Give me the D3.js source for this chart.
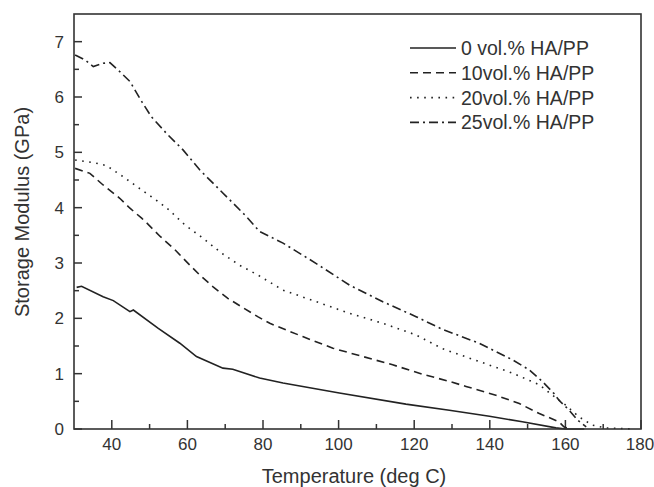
<!DOCTYPE html>
<html><head><meta charset="utf-8">
<script src="https://cdn.jsdelivr.net/npm/d3@7"></script>
<style>body{margin:0;background:#fff}svg{display:block}text{font-family:"Liberation Sans",Arial,sans-serif;fill:#333}</style>
</head><body><svg id="c" width="654" height="487"></svg>
<script>
const seriesNames = ["0 vol.% HA/PP","10vol.% HA/PP","20vol.% HA/PP","25vol.% HA/PP"];
const temp0 = [30.7,32,37.7,40.4,44.8,45.7,52.3,58,62.4,69.4,72,79.1,85.3,100.2,117.8,129.3,139.9,148.6,157.5,160,165];
const mod0  = [2.56,2.58,2.39,2.32,2.12,2.15,1.82,1.55,1.31,1.10,1.08,0.92,0.83,0.65,0.45,0.34,0.23,0.13,0.02,0.0,0.0];
const temp10 = [30.3,34.2,37.7,42.1,44.8,47.9,49.3,52.8,56.7,59.8,63.3,66.8,70.7,74.3,78.6,81.8,90.5,98.5,106.4,114.3,122.2,129.3,133.7,141.6,147.8,153.1,158.3,159.6,161];
const mod10  = [4.71,4.62,4.41,4.17,3.99,3.81,3.72,3.48,3.24,3.02,2.78,2.57,2.36,2.21,2.03,1.91,1.67,1.46,1.31,1.16,0.99,0.86,0.77,0.61,0.46,0.28,0.13,0.04,0.0];
const temp20 = [30.3,35.5,38.6,43,47.9,52.7,55.1,59.3,64.1,69,73.8,78.7,85.3,94.1,102.9,111.7,120.5,127.5,137.2,146,153.1,156.6,160.1,163.6,167.1,170.6,178];
const mod20  = [4.86,4.81,4.76,4.56,4.32,4.09,3.96,3.69,3.45,3.18,2.96,2.78,2.51,2.30,2.09,1.91,1.70,1.45,1.22,1.01,0.80,0.61,0.43,0.22,0.07,0.02,0.0];
const temp25 = [30.3,32.9,35.1,37.7,39.5,42.1,44.8,47.9,50.5,54.5,58.9,63.3,67.7,72.1,75.6,79.1,85.3,94.1,102.9,111.7,120.5,127.5,137.2,146,150.4,153.9,157,158.3,161,163.2,165.5];
const mod25  = [6.76,6.67,6.55,6.61,6.62,6.46,6.28,5.92,5.64,5.34,5.04,4.68,4.38,4.08,3.84,3.57,3.36,2.99,2.60,2.30,2.03,1.80,1.55,1.25,1.07,0.86,0.64,0.52,0.34,0.16,0.04];
const xTicks = [40,60,80,100,120,140,160,180];
const yTicks = [0,1,2,3,4,5,6,7];

const temps = [temp0,temp10,temp20,temp25];
const mods = [mod0,mod10,mod20,mod25];
const dashes = [null,"8,5","1.6,5.5","9,4,2,4"];

const svg = d3.select("#c");
const L=74,R=641,T=14,B=429;
const x = d3.scaleLinear().domain([30,180]).range([L,R]);
const y = d3.scaleLinear().domain([0,7.5]).range([B,T]);

const axCol="#333";
const xMinor = d3.range(30,181,10).filter(v=>!xTicks.includes(v)&&v>30);
const yMinor = d3.range(0.5,7.5,1);
const g = svg.append("g");
g.selectAll(".xm").data(xTicks).join("line").attr("x1",d=>x(d)).attr("x2",d=>x(d)).attr("y1",B).attr("y2",B-9).attr("stroke",axCol).attr("stroke-width",1.5);
g.selectAll(".xn").data(xMinor).join("line").attr("x1",d=>x(d)).attr("x2",d=>x(d)).attr("y1",B).attr("y2",B-5).attr("stroke",axCol).attr("stroke-width",1.5);
g.selectAll(".ym").data(yTicks).join("line").attr("y1",d=>y(d)).attr("y2",d=>y(d)).attr("x1",L).attr("x2",L+8).attr("stroke",axCol).attr("stroke-width",1.5);
g.selectAll(".yn").data(yMinor).join("line").attr("y1",d=>y(d)).attr("y2",d=>y(d)).attr("x1",L).attr("x2",L+5).attr("stroke",axCol).attr("stroke-width",1.5);

g.selectAll(".xl").data(xTicks).join("text").attr("x",d=>d===180?Math.min(x(d),653-13):x(d)).attr("y",B+21).attr("text-anchor","middle").attr("font-size",17).text(d=>d);
g.selectAll(".yl").data(yTicks).join("text").attr("x",L-10).attr("y",d=>y(d)+6).attr("text-anchor","end").attr("font-size",17).text(d=>d);

const line = d3.line().x(d=>x(d[0])).y(d=>y(d[1]));
temps.forEach((tt,i)=>{
  const pts = tt.map((t,j)=>[t,mods[i][j]]);
  svg.append("path").attr("d",line(pts)).attr("fill","none").attr("stroke","#222").attr("stroke-width",1.6)
    .attr("stroke-dasharray",dashes[i]);
});

svg.append("rect").attr("x",L).attr("y",T).attr("width",R-L).attr("height",B-T).attr("fill","none").attr("stroke",axCol).attr("stroke-width",1.6);

svg.append("text").attr("x",354).attr("y",483).attr("text-anchor","middle").attr("font-size",20).text("Temperature (deg C)");
svg.append("text").attr("transform","translate(29,212) rotate(-90)").attr("text-anchor","middle").attr("font-size",20).text("Storage Modulus (GPa)");

const leg = svg.append("g");
seriesNames.forEach((n,i)=>{
  const yy = 48 + i*24.8;
  leg.append("line").attr("x1",410).attr("x2",456).attr("y1",yy).attr("y2",yy).attr("stroke","#222").attr("stroke-width",1.6).attr("stroke-dasharray",dashes[i]);
  leg.append("text").attr("x",461).attr("y",yy+7).attr("font-size",19.5).text(n);
});
</script></body></html>
